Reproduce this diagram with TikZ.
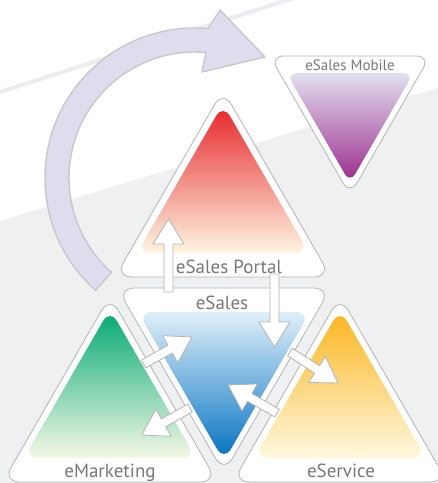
\documentclass[tikz,border=0pt]{standalone}
\usepackage{fontspec}
\setmainfont{PT Sans}
\usetikzlibrary{calc}
\definecolor{bggray}{HTML}{EFF0F2}
\definecolor{lineband}{HTML}{EBECEF}
\definecolor{edgegray}{HTML}{B4B4B4}
\definecolor{txtgray}{HTML}{787878}
\definecolor{ringfill}{HTML}{DDDDEE}
\definecolor{ringedge}{HTML}{C8C8CC}
\newcommand\uptri[4]{\path[#4] (#1,#3) -- ({#1+(#3-#2)/1.7320508},#3) -- (#1,#2) -- ({#1-(#3-#2)/1.7320508},#3) -- cycle;}
\newcommand\downtri[4]{\path[#4] (#1,#2) -- ({#1+(#3-#2)/1.7320508},#2) -- (#1,#3) -- ({#1-(#3-#2)/1.7320508},#2) -- cycle;}
\newcommand\myfatarrow[2]{%
  \path ($(#2)!25pt!(#1)$) coordinate (fab);
  \draw[fatarr] ($(#1)!4.5pt!90:(#2)$) -- ($(fab)!4.5pt!-90:(#1)$) -- ($(fab)!15.5pt!-90:(#1)$) -- (#2) -- ($(fab)!15.5pt!90:(#1)$) -- ($(fab)!4.5pt!90:(#1)$) -- ($(#1)!4.5pt!-90:(#2)$) -- cycle;}
\begin{document}
\begin{tikzpicture}[x=1pt,y=-1pt,
  outer/.style={fill=white, draw=edgegray, line width=0.8pt, rounded corners=17pt},
  outersm/.style={fill=white, draw=edgegray, line width=0.8pt, rounded corners=13.9pt},
  inner/.style={rounded corners=13.9pt},
  innersm/.style={rounded corners=10.4pt},
  fatarr/.style={fill=white, draw=edgegray, line width=0.8pt, line join=round},
  lbl/.style={text=txtgray, font=\fontsize{19}{21}\selectfont, anchor=base, inner sep=0pt},
  lblsm/.style={text=txtgray, font=\fontsize{15}{17}\selectfont, anchor=base, inner sep=0pt}]
\useasboundingbox (0,0) rectangle (438,483);
% background
\fill[white] (0,0) rectangle (438,483);
\fill[bggray] (0,221) -- (438,88) -- (438,483) -- (0,483) -- cycle;
\draw[lineband, line width=4pt] (-5,93.6) -- (300,-4);
% circular arrow
\draw[fill=ringfill, draw=ringedge, line width=1.4pt, line join=round]
  (95.6,290.3) arc[start angle=228.5, end angle=85, radius=150pt]
  -- (220,10) -- (265,57) -- (202,72) -- (206,52.5)
  arc[start angle=85, end angle=228.5, radius=126pt] -- cycle;
% eSales Mobile
\downtri{350}{56}{195}{outersm}
\downtri{350}{73}{183}{innersm, top color={rgb,255:red,226;green,224;blue,240}, middle color={rgb,255:red,194;green,150;blue,196}, bottom color={rgb,255:red,154;green,42;blue,140}}
% eSales Portal
\uptri{223}{90}{277}{outer}
\uptri{223}{104}{253}{inner, top color={rgb,255:red,230;green,36;blue,40}, middle color={rgb,255:red,240;green,128;blue,88}, bottom color={rgb,255:red,254;green,245;blue,226}}
% eSales
\downtri{224}{288}{473}{outer}
\downtri{224}{312}{461}{inner, top color={rgb,255:red,224;green,240;blue,250}, middle color={rgb,255:red,142;green,180;blue,224}, bottom color={rgb,255:red,0;green,112;blue,192}}
% eMarketing
\uptri{110}{296}{482}{outer}
\uptri{110}{309}{458}{inner, top color={rgb,255:red,0;green,168;blue,112}, middle color={rgb,255:red,110;green,195;blue,155}, bottom color={rgb,255:red,245;green,248;blue,230}}
% eService
\uptri{340}{296}{482}{outer}
\uptri{340}{309}{458}{inner, top color={rgb,255:red,251;green,180;blue,28}, middle color={rgb,255:red,254;green,208;blue,116}, bottom color={rgb,255:red,255;green,248;blue,224}}
% labels
\node[lblsm] (tmob) at (350,70) {eSales Mobile};
\node[lbl] (tportal) at (229,273) {eSales Portal};
\node[lbl] (tsales) at (222,309) {eSales};
\node[lbl] (tmkt) at (110,477) {eMarketing};
\node[lbl] (tsrv) at (341,477) {eService};
% arrow end points
\coordinate (a1t) at (168.5,292); \coordinate (a1h) at (168.5,219);
\coordinate (a2t) at (274.5,274); \coordinate (a2h) at (274.5,347);
\coordinate (a3t) at (143.5,364); \coordinate (a3h) at (192,337);
\coordinate (a4t) at (190,408);   \coordinate (a4h) at (141.7,435);
\coordinate (a5t) at (290,352);   \coordinate (a5h) at (338,383);
\coordinate (a6t) at (277,413);   \coordinate (a6h) at (228,385);
\myfatarrow{a1t}{a1h}
\myfatarrow{a2t}{a2h}
\myfatarrow{a3t}{a3h}
\myfatarrow{a4t}{a4h}
\myfatarrow{a5t}{a5h}
\myfatarrow{a6t}{a6h}
\end{tikzpicture}
\end{document}
